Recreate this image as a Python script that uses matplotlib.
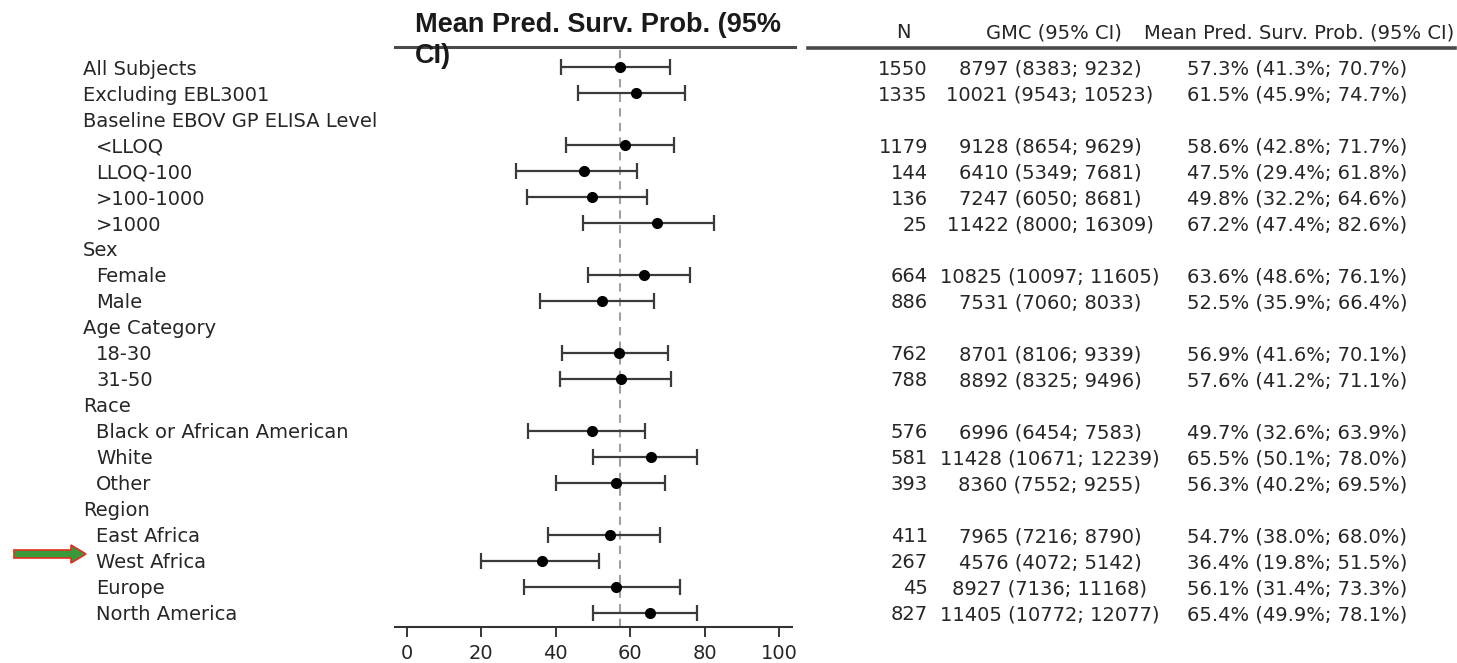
import matplotlib
matplotlib.use("Agg")
import matplotlib.pyplot as plt
from matplotlib.transforms import blended_transform_factory
from matplotlib.lines import Line2D
from matplotlib.patches import FancyArrow

labels = ["All Subjects", "Excluding EBL3001", "Baseline EBOV GP ELISA Level",
          "<LLOQ", "LLOQ-100", ">100-1000", ">1000", "Sex", "Female", "Male",
          "Age Category", "18-30", "31-50", "Race", "Black or African American",
          "White", "Other", "Region", "East Africa", "West Africa", "Europe",
          "North America"]
indent = [0, 0, 0, 1, 1, 1, 1, 0, 1, 1, 0, 1, 1, 0, 1, 1, 1, 0, 1, 1, 1, 1]
n_vals = ["1550", "1335", "", "1179", "144", "136", "25", "", "664", "886", "",
          "762", "788", "", "576", "581", "393", "", "411", "267", "45", "827"]
gmc = ["8797 (8383; 9232)", "10021 (9543; 10523)", "", "9128 (8654; 9629)",
       "6410 (5349; 7681)", "7247 (6050; 8681)", "11422 (8000; 16309)", "",
       "10825 (10097; 11605)", "7531 (7060; 8033)", "", "8701 (8106; 9339)",
       "8892 (8325; 9496)", "", "6996 (6454; 7583)", "11428 (10671; 12239)",
       "8360 (7552; 9255)", "", "7965 (7216; 8790)", "4576 (4072; 5142)",
       "8927 (7136; 11168)", "11405 (10772; 12077)"]
mean = [57.3, 61.5, None, 58.6, 47.5, 49.8, 67.2, None, 63.6, 52.5, None,
        56.9, 57.6, None, 49.7, 65.5, 56.3, None, 54.7, 36.4, 56.1, 65.4]
lo = [41.3, 45.9, None, 42.8, 29.4, 32.2, 47.4, None, 48.6, 35.9, None,
      41.6, 41.2, None, 32.6, 50.1, 40.2, None, 38.0, 19.8, 31.4, 49.9]
hi = [70.7, 74.7, None, 71.7, 61.8, 64.6, 82.6, None, 76.1, 66.4, None,
      70.1, 71.1, None, 63.9, 78.0, 69.5, None, 68.0, 51.5, 73.3, 78.1]
ref_value = 57.3
xticks = [0, 20, 40, 60, 80, 100]

W, H = 1457, 663
fig = plt.figure(figsize=(W / 100, H / 100), dpi=100)
ax = fig.add_axes([395 / W, 1 - 627 / H, 397 / W, (627 - 47) / H])

txtc = "#262626"
fs = 14
rows = list(range(len(labels)))
for i in rows:
    if mean[i] is None:
        continue
    ax.errorbar(mean[i], i, xerr=[[mean[i] - lo[i]], [hi[i] - mean[i]]],
                fmt="o", color="black", ecolor="#3a3a3a", elinewidth=1.6,
                capsize=5.5, capthick=1.6, markersize=7, zorder=3)

ax.axvline(ref_value, color="#a0a0a0", linestyle=(0, (4, 3)), linewidth=1.5, zorder=1)
ax.set_xlim(-3.2, 103.5)
ax.set_ylim(21.54, -0.77)
ax.set_yticks([])
ax.set_xticks(xticks)
ax.tick_params(axis="x", labelsize=fs, colors=txtc, length=7, width=1.3, pad=5)
for s in ["top", "right", "left"]:
    ax.spines[s].set_visible(False)
ax.spines["bottom"].set_linewidth(1.5)
ax.spines["bottom"].set_color("#333333")

tr = blended_transform_factory(fig.transFigure, ax.transData)
va = "center_baseline"
for i in rows:
    x = (96 if indent[i] else 83) / W
    ax.text(x, i, labels[i], transform=tr, ha="left", va=va,
            fontsize=fs, color=txtc, clip_on=False)
    if n_vals[i]:
        ax.text(928 / W, i, n_vals[i], transform=tr, ha="right", va=va,
                fontsize=fs, color=txtc, clip_on=False)
        ax.text(1050 / W, i, gmc[i], transform=tr, ha="center", va=va,
                fontsize=fs, color=txtc, clip_on=False)
        ax.text(1297 / W, i, f"{mean[i]:.1f}% ({lo[i]:.1f}%; {hi[i]:.1f}%)",
                transform=tr, ha="center", va=va,
                fontsize=fs, color=txtc, clip_on=False)

# table header
hy = 1 - 31 / H
fig.text(903 / W, hy, "N", ha="center", va=va, fontsize=fs, color=txtc)
fig.text(1054 / W, hy, "GMC (95% CI)", ha="center", va=va, fontsize=fs, color=txtc)
fig.text(1299 / W, hy, "Mean Pred. Surv. Prob. (95% CI)", ha="center", va=va,
         fontsize=fs, color=txtc)

# header rules
fig.add_artist(Line2D([395 / W, 795 / W], [1 - 47 / H] * 2, color="#4a4a4a", linewidth=2.2))
fig.add_artist(Line2D([808 / W, 1455 / W], [1 - 48 / H] * 2, color="#4a4a4a", linewidth=2.6))

# plot title (wrapped over two lines)
title_lines = ["Mean Pred. Surv. Prob. (95%", "CI)"]
for line, base in zip(title_lines, [32, 63]):
    fig.text(415 / W, 1 - base / H, line, ha="left", va="baseline",
             fontsize=19.5, fontweight="bold", family="Liberation Sans", color="#1a1a1a")

# highlight arrow
arrow = FancyArrow(14 / W, 1 - 554 / H, 57 / W, 0, width=8 / H, head_width=18 / H,
                   head_length=15 / W, length_includes_head=False,
                   transform=fig.transFigure, facecolor="#3a9a3a",
                   edgecolor="#e03020", linewidth=1.2)
fig.add_artist(arrow)

fig.savefig("out.png", dpi=100)
